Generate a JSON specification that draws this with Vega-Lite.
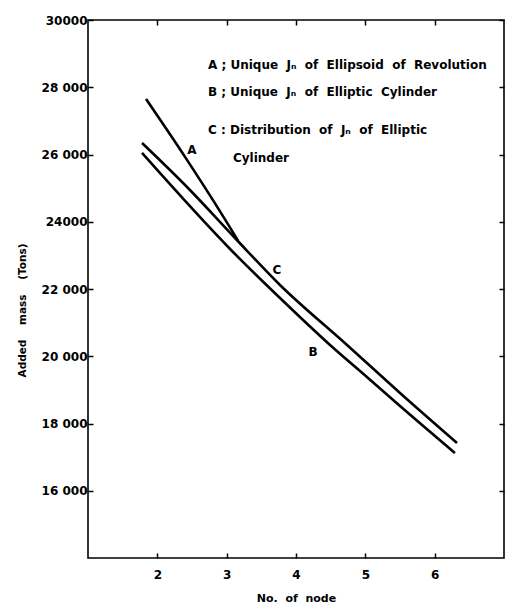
{
  "$schema": "https://vega.github.io/schema/vega-lite/v6.json",
  "width": 416,
  "height": 538,
  "autosize": "none",
  "padding": {"left": 88, "top": 20, "right": 3, "bottom": 49},
  "background": "white",
  "config": {
    "view": {"stroke": "black", "strokeWidth": 1.6},
    "font": "DejaVu Sans",
    "axis": {
      "domain": false,
      "grid": false,
      "tickColor": "black",
      "tickWidth": 1.5,
      "labelColor": "black",
      "titleColor": "black",
      "labelFont": "DejaVu Sans",
      "titleFont": "DejaVu Sans",
      "labelFontWeight": "bold",
      "titleFontWeight": "bold"
    }
  },
  "datasets": {
    "curves": [
      {"series": "A", "node": 1.837, "mass": 27650},
      {"series": "A", "node": 2.399, "mass": 25930},
      {"series": "A", "node": 2.8, "mass": 24650},
      {"series": "A", "node": 3.164, "mass": 23440},
      {"series": "C", "node": 1.779, "mass": 26342},
      {"series": "C", "node": 2.442, "mass": 25004},
      {"series": "C", "node": 3.12, "mass": 23517},
      {"series": "C", "node": 3.769, "mass": 22119},
      {"series": "C", "node": 4.736, "mass": 20335},
      {"series": "C", "node": 5.5, "mass": 18907},
      {"series": "C", "node": 6.322, "mass": 17420},
      {"series": "B", "node": 1.779, "mass": 26045},
      {"series": "B", "node": 3.063, "mass": 23160},
      {"series": "B", "node": 3.769, "mass": 21732},
      {"series": "B", "node": 4.491, "mass": 20335},
      {"series": "B", "node": 5.039, "mass": 19353},
      {"series": "B", "node": 5.5, "mass": 18520},
      {"series": "B", "node": 6.293, "mass": 17122}
    ],
    "notes": [
      {"node": 2.731, "mass": 28662, "text": "A ; Unique \u00a0Jₙ \u00a0of \u00a0Ellipsoid \u00a0of \u00a0Revolution"},
      {"node": 2.731, "mass": 27859, "text": "B ; Unique \u00a0Jₙ \u00a0of \u00a0Elliptic \u00a0Cylinder"},
      {"node": 2.731, "mass": 26729, "text": "C : Distribution \u00a0of \u00a0Jₙ \u00a0of \u00a0Elliptic"},
      {"node": 3.09, "mass": 25896, "text": "Cylinder"}
    ],
    "labels": [
      {"node": 2.5, "mass": 26134, "text": "A"},
      {"node": 3.726, "mass": 22565, "text": "C"},
      {"node": 4.245, "mass": 20127, "text": "B"}
    ]
  },
  "layer": [
    {
      "data": {"name": "curves"},
      "mark": {"type": "line", "interpolate": "monotone", "color": "black"},
      "encoding": {
        "x": {
          "field": "node", "type": "quantitative",
          "scale": {"domain": [1, 7], "nice": false, "zero": false},
          "axis": {"orient": "bottom", "values": [2, 3, 4, 5, 6], "title": "No. \u00a0of \u00a0node",
                   "tickSize": -5, "labelPadding": 16, "labelFontSize": 12, "titleFontSize": 11, "titlePadding": 12}
        },
        "y": {
          "field": "mass", "type": "quantitative",
          "scale": {"domain": [14000, 30000], "nice": false, "zero": false},
          "axis": {"orient": "left", "values": [16000, 18000, 20000, 22000, 24000, 26000, 28000, 30000],
                   "labelExpr": "datum.value == 30000 ? '30000' : datum.value == 24000 ? '24000' : replace(format(datum.value, ','), ',', ' ')",
                   "title": "Added \u00a0\u00a0\u00a0mass \u00a0\u00a0\u00a0(Tons)", "titleY": 290,
                   "tickSize": -5, "labelPadding": 6, "labelFontSize": 12, "titleFontSize": 10.5, "titlePadding": 14}
        },
        "detail": {"field": "series"},
        "strokeWidth": {"field": "series", "type": "nominal",
                        "scale": {"domain": ["A", "B", "C"], "range": [2.6, 2.6, 1.9]}, "legend": null}
      }
    },
    {
      "data": {"name": "curves"},
      "mark": {"type": "line", "opacity": 0},
      "encoding": {
        "x": {"field": "node", "type": "quantitative",
              "axis": {"orient": "top", "values": [2, 3, 4, 5, 6], "labels": false, "title": null, "tickSize": -5}},
        "y": {"field": "mass", "type": "quantitative",
              "axis": {"orient": "right", "values": [16000, 18000, 20000, 22000, 24000, 26000, 28000, 30000],
                       "labels": false, "title": null, "tickSize": -5}},
        "detail": {"field": "series"}
      }
    },
    {
      "data": {"name": "notes"},
      "mark": {"type": "text", "align": "left", "baseline": "middle", "font": "DejaVu Sans",
               "fontWeight": "bold", "fontSize": 12, "color": "black"},
      "encoding": {
        "x": {"field": "node", "type": "quantitative", "axis": null},
        "y": {"field": "mass", "type": "quantitative", "axis": null},
        "text": {"field": "text"}
      }
    },
    {
      "data": {"name": "labels"},
      "mark": {"type": "text", "align": "center", "baseline": "middle", "font": "DejaVu Sans",
               "fontWeight": "bold", "fontSize": 12, "color": "black"},
      "encoding": {
        "x": {"field": "node", "type": "quantitative", "axis": null},
        "y": {"field": "mass", "type": "quantitative", "axis": null},
        "text": {"field": "text"}
      }
    }
  ]
}
